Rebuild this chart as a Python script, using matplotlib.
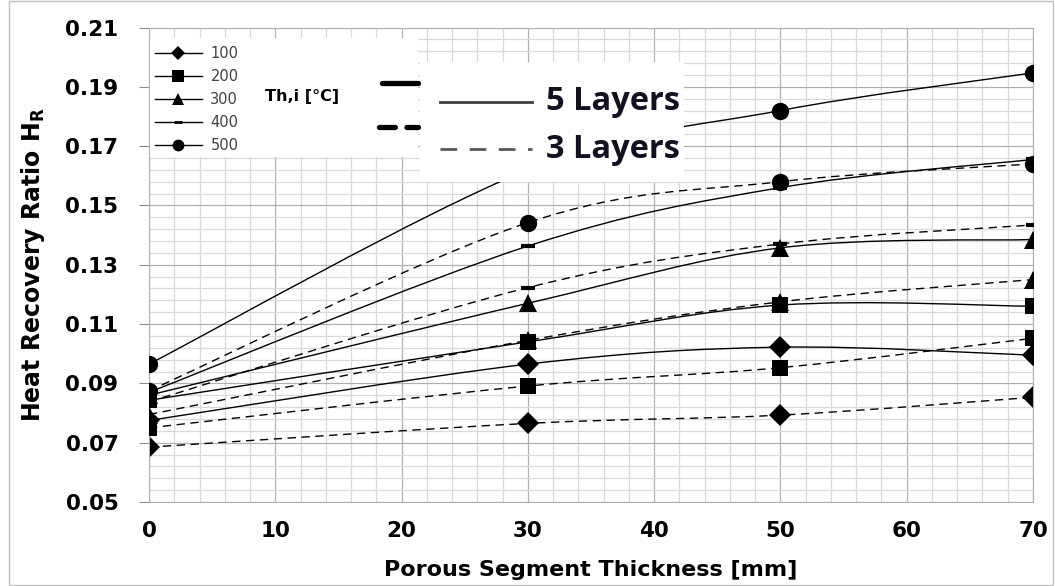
import numpy as np
import matplotlib.pyplot as plt
from matplotlib.path import Path
from matplotlib.patches import PathPatch, Rectangle
from matplotlib.lines import Line2D

# porous segment thickness [mm]
thickness = [0, 30, 50, 70]
temps = [100, 200, 300, 400, 500]

# heat recovery ratio, one row per Th,i
hr_5layers = [
    [0.0775, 0.0965, 0.1022, 0.0995],
    [0.0843, 0.1040, 0.1164, 0.1160],
    [0.0860, 0.1170, 0.1357, 0.1385],
    [0.0870, 0.1363, 0.1560, 0.1655],
    [0.0965, 0.1620, 0.1820, 0.1947],
]
hr_3layers = [
    [0.0685, 0.0765, 0.0793, 0.0853],
    [0.0750, 0.0891, 0.0953, 0.1052],
    [0.0795, 0.1045, 0.1175, 0.1250],
    [0.0838, 0.1223, 0.1370, 0.1434],
    [0.0875, 0.1442, 0.1580, 0.1640],
]

markers = ['D', 's', '^', '_', 'o']
msizes = [11, 12, 12.5, 10, 12.5]
lmsizes = [7, 8, 8, 6, 8.5]

W, H = 1055, 586


def fx(x):
    return x / W


def fy(y):
    return 1 - y / H


def smooth_path(x, y):
    # excel-like smoothed line: cubic bezier through the points
    pts = np.column_stack([x, y]).astype(float)
    p = np.vstack([pts[0], pts, pts[-1]])
    verts = [pts[0]]
    codes = [Path.MOVETO]
    for i in range(1, len(p) - 2):
        c1 = p[i] + (p[i + 1] - p[i - 1]) / 6
        c2 = p[i + 1] - (p[i + 2] - p[i]) / 6
        verts += [c1, c2, p[i + 1]]
        codes += [Path.CURVE4] * 3
    return Path(verts, codes)


fig = plt.figure(figsize=(W / 100, H / 100), dpi=100)
ax = fig.add_axes([fx(149), fy(502), (1033 - 149) / W, (502 - 27.5) / H])

z = 2
for rows, ls in [(hr_3layers, (0, (6, 4))), (hr_5layers, '-')]:
    for k, vals in enumerate(rows):
        ax.add_patch(PathPatch(smooth_path(thickness, vals), fill=False,
                               edgecolor='black', lw=1.0, linestyle=ls, zorder=z))
        mew = 3 if markers[k] == '_' else 0
        ax.plot(thickness, vals, linestyle='none', marker=markers[k],
                markersize=msizes[k], color='black', mew=mew, zorder=z + 0.5)
        z += 1

ax.set_xlim(0, 70)
ax.set_ylim(0.05, 0.21)
ax.set_xticks(np.arange(0, 71, 10))
ax.set_xticks(np.arange(0, 71, 2), minor=True)
ax.set_yticks(np.arange(0.05, 0.2101, 0.02))
ax.set_yticks(np.arange(0.05, 0.2101, 0.004), minor=True)
ax.set_yticklabels(['%.2f' % v for v in np.arange(0.05, 0.2101, 0.02)])
ax.grid(which='minor', color='#d9d9d9', lw=0.9)
ax.grid(which='major', color='#b0b0b0', lw=0.9)
ax.set_axisbelow(True)
for s in ax.spines.values():
    s.set_color('#b0b0b0')
ax.tick_params(which='minor', length=0)
ax.tick_params(axis='x', which='major', length=0, pad=14, labelsize=15.5)
ax.tick_params(axis='y', which='major', length=7, color='#8c8c8c', pad=15, labelsize=15.5)
for lab in ax.get_xticklabels() + ax.get_yticklabels():
    lab.set_fontweight('bold')

ax.set_xlabel('Porous Segment Thickness [mm]', fontsize=16, fontweight='bold')
ax.set_ylabel(r'Heat Recovery Ratio H$_\mathbf{R}$', fontsize=17, fontweight='bold')
ax.xaxis.set_label_coords(0.5, -0.122)
ax.yaxis.set_label_coords(-0.115, 0.5)

# white legend panels
fig.add_artist(Rectangle((fx(150), fy(157)), (418 - 150) / W, (157 - 38) / H,
                         transform=fig.transFigure, fc='white', ec='none', zorder=3))
fig.add_artist(Rectangle((fx(420), fy(182)), (684 - 420) / W, (182 - 62) / H,
                         transform=fig.transFigure, fc='white', ec='none', zorder=3))

handles = [Line2D([], [], color='black', lw=1.0, marker=m, markersize=s,
                  mew=(2 if m == '_' else 0))
           for m, s in zip(markers, lmsizes)]
fig.legend(handles, [str(t) for t in temps], loc='upper left',
           bbox_to_anchor=(fx(155), fy(46)), frameon=False, fontsize=10.5,
           labelcolor='#404040', handlelength=3.2, handletextpad=0.6,
           labelspacing=0.55, borderpad=0, borderaxespad=0)

fig.text(fx(302), fy(97), 'Th,i [°C]', ha='center', va='center',
         fontsize=11.5, fontweight='bold', zorder=6)

fig.add_artist(Line2D([fx(382), fx(418)], [fy(83), fy(83)], transform=fig.transFigure,
                      color='black', lw=3.8, solid_capstyle='round', zorder=6))
fig.add_artist(Line2D([fx(379), fx(418)], [fy(127), fy(127)], transform=fig.transFigure,
                      color='black', lw=3.8, dashes=(3.0, 2.2), dash_capstyle='round', zorder=6))

fig.add_artist(Line2D([fx(440), fx(532)], [fy(102), fy(102)], transform=fig.transFigure,
                      color='#404040', lw=2.0, zorder=6))
fig.add_artist(Line2D([fx(440), fx(532)], [fy(149), fy(149)], transform=fig.transFigure,
                      color='#595959', lw=2.0, dashes=(6, 4.5), zorder=6))
fig.text(fx(546), fy(102), '5 Layers', ha='left', va='center', fontsize=23.5,
         fontweight='bold', family=['Open Sans', 'DejaVu Sans'], color='#111122', zorder=6)
fig.text(fx(546), fy(150), '3 Layers', ha='left', va='center', fontsize=23.5,
         fontweight='bold', family=['Open Sans', 'DejaVu Sans'], color='#111122', zorder=6)

# chart border
fig.add_artist(Rectangle((fx(9), fy(585)), (1053 - 9) / W, (585 - 1) / H,
                         transform=fig.transFigure, fc='none', ec='#bfbfbf', lw=1.0, zorder=0))

fig.savefig('out.png', dpi=100)
